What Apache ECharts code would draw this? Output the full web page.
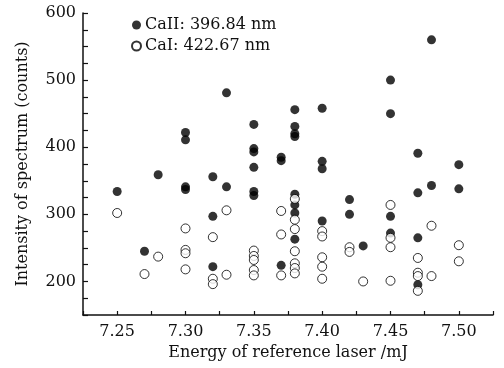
<!DOCTYPE html>
<html>
<head>
<meta charset="utf-8">
<script src="https://cdn.jsdelivr.net/npm/echarts@6/dist/echarts.min.js"></script>
<style>
  html, body { margin: 0; padding: 0; background: #fff; }
  #chart { width: 504px; height: 368px; }
</style>
</head>
<body>
<div id="chart"></div>
<script>
// CaII 396.84 nm (filled dots)
const caIIEnergy = [
  7.25, 7.27, 7.28,
  7.30, 7.30, 7.30, 7.30,
  7.32, 7.32, 7.32,
  7.33, 7.33,
  7.35, 7.35, 7.35, 7.35, 7.35, 7.35,
  7.37, 7.37, 7.37,
  7.38, 7.38, 7.38, 7.38, 7.38, 7.38, 7.38, 7.38,
  7.40, 7.40, 7.40, 7.40,
  7.42, 7.42, 7.43,
  7.45, 7.45, 7.45, 7.45,
  7.47, 7.47, 7.47, 7.47,
  7.48, 7.48,
  7.50, 7.50
]
const caIICounts = [
  334, 245, 359,
  422, 411, 341, 337,
  356, 297, 222,
  481, 341,
  434, 398, 393, 370, 334, 328,
  385, 380, 224,
  456, 431, 420, 416, 330, 314, 302, 263,
  458, 379, 368, 290,
  322, 300, 253,
  500, 450, 297, 272,
  391, 332, 265, 195,
  560, 343,
  374, 338
]

// CaI 422.67 nm (open circles)
const caIEnergy = [
  7.25, 7.27, 7.28,
  7.30, 7.30, 7.30, 7.30,
  7.32, 7.32, 7.32,
  7.33, 7.33,
  7.35, 7.35, 7.35, 7.35, 7.35,
  7.37, 7.37, 7.37,
  7.38, 7.38, 7.38, 7.38, 7.38, 7.38, 7.38,
  7.40, 7.40, 7.40, 7.40, 7.40,
  7.42, 7.42, 7.43,
  7.45, 7.45, 7.45, 7.45,
  7.47, 7.47, 7.47, 7.47,
  7.48, 7.48,
  7.50, 7.50
]
const caICounts = [
  302, 211, 237,
  279, 247, 242, 218,
  266, 204, 196,
  306, 210,
  246, 238, 232, 217, 209,
  305, 270, 209,
  323, 292, 278, 245, 227, 220, 212,
  275, 267, 236, 222, 204,
  251, 244, 200,
  314, 265, 251, 201,
  235, 213, 208, 186,
  283, 208,
  254, 230
]

const seriesNames = ['CaII: 396.84 nm', 'CaI: 422.67 nm']

const zip = (xs, ys) => xs.map((x, i) => [x, ys[i]])

const fontFamily = 'DejaVu Serif'
const axisColor = '#111'

const chart = echarts.init(document.getElementById('chart'))

const option = {
  backgroundColor: '#fff',
  animation: false,
  textStyle: { fontFamily: fontFamily, color: axisColor },
  grid: {
    left: 83,
    right: 11,
    top: 13,
    bottom: 53
  },
  legend: {
    orient: 'vertical',
    left: 126,
    top: 12,
    itemWidth: 9,
    itemHeight: 9,
    itemGap: 5,
    icon: 'circle',
    textStyle: { fontFamily: fontFamily, fontSize: 16, color: axisColor, padding: [0, 0, 0, -1] },
    data: seriesNames
  },
  xAxis: {
    type: 'value',
    min: 7.225,
    max: 7.525,
    interval: 0.025,
    name: 'Energy of reference laser /mJ',
    nameLocation: 'middle',
    nameGap: 28,
    nameTextStyle: { fontFamily: fontFamily, fontSize: 16, color: axisColor },
    splitLine: { show: false },
    axisLine: { show: true, onZero: false, lineStyle: { color: axisColor, width: 1.5 } },
    axisTick: { show: true, inside: true, length: 4, lineStyle: { color: axisColor, width: 1.2 } },
    axisLabel: {
      margin: 9,
      fontSize: 16,
      color: axisColor,
      showMinLabel: true,
      showMaxLabel: true,
      formatter: v => (Math.round(v * 1000) % 50 === 0 ? v.toFixed(2) : '')
    }
  },
  yAxis: {
    type: 'value',
    min: 150,
    max: 600,
    interval: 25,
    name: 'Intensity of spectrum (counts)',
    nameLocation: 'middle',
    nameGap: 52,
    nameTextStyle: { fontFamily: fontFamily, fontSize: 16, color: axisColor },
    splitLine: { show: false },
    axisLine: { show: true, onZero: false, lineStyle: { color: axisColor, width: 1.5 } },
    axisTick: { show: true, inside: true, length: 5, lineStyle: { color: axisColor, width: 1.2 } },
    axisLabel: {
      margin: 7,
      fontSize: 16,
      color: axisColor,
      formatter: v => (v % 100 === 0 ? String(v) : '')
    }
  },
  series: [
    {
      name: seriesNames[0],
      type: 'scatter',
      symbol: 'circle',
      symbolSize: 9,
      itemStyle: { color: '#000' },
      data: zip(caIIEnergy, caIICounts)
    },
    {
      name: seriesNames[1],
      type: 'scatter',
      symbol: 'circle',
      symbolSize: 9,
      itemStyle: { color: '#fff', borderColor: '#000', borderWidth: 1 },
      data: zip(caIEnergy, caICounts)
    }
  ]
}

chart.setOption(option)
</script>
</body>
</html>
